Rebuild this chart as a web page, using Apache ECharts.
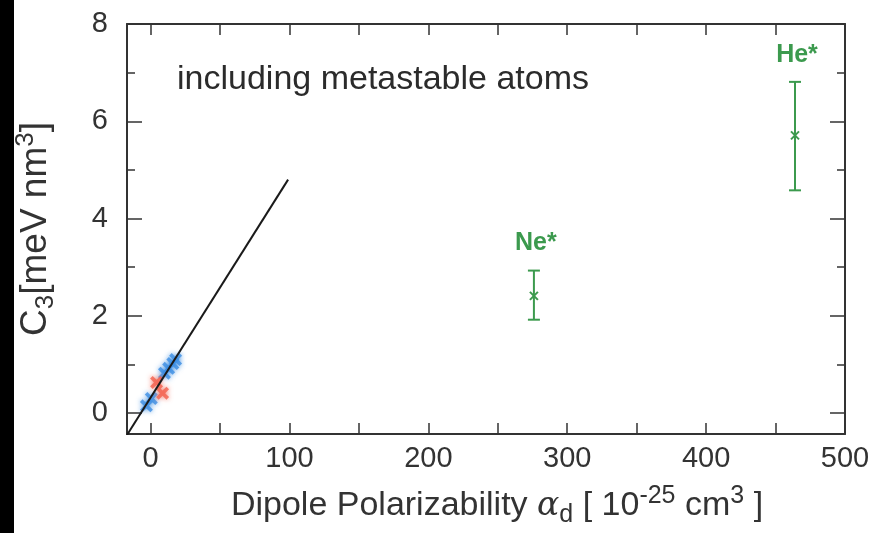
<!DOCTYPE html>
<html>
<head>
<meta charset="utf-8">
<script src="https://cdn.jsdelivr.net/npm/echarts@6/dist/echarts.min.js"></script>
<style>
  html, body { margin: 0; padding: 0; background: #ffffff; }
  #chart { width: 879px; height: 533px; }
</style>
</head>
<body>
<div id="chart"></div>
<script>
// Ground-state species near the origin (blue and red crosses)
const blueAlpha = [-3, 0.5, 10, 13, 16, 18];
const blueC3 = [0.15, 0.3, 0.82, 0.92, 1.02, 1.1];
const redAlpha = [4.3, 8.6];
const redC3 = [0.63, 0.41];

// Metastable atoms: value with lower / upper error limits
const metaNames = ['Ne*', 'He*'];
const metaAlpha = [276, 464];
const metaC3 = [2.41, 5.71];
const metaLow = [1.92, 4.58];
const metaHigh = [2.93, 6.81];

// Linear fit drawn through the ground-state points
const fitAlpha = [-17, 99];
const fitC3 = [-0.45, 4.8];

// Axis ranges and label steps
const xRange = [-17, 500];
const yRange = [-0.43, 8];
const xLabelStep = 100;
const yLabelStep = 2;

const FONT = "'Liberation Sans', Arial, Helvetica, sans-serif";
const INK = '#333333';
const GREEN = '#3c9a4e';
const BLUE = '#3d8fe3';
const RED = '#f2604e';

const crossPath = 'path://M0,2 L2,0 L5,3 L8,0 L10,2 L7,5 L10,8 L8,10 L5,7 L2,10 L0,8 L3,5 Z';

const zip = (xs, ys) => xs.map((x, i) => [x, ys[i]]);

const chart = echarts.init(document.getElementById('chart'), null, { renderer: 'canvas' });

const frameAxisX = {
  type: 'value', min: xRange[0], max: xRange[1], splitNumber: 10,
  axisLine: { show: true, onZero: false, lineStyle: { color: INK, width: 2 } },
  axisTick: { show: true, inside: true, length: 11, lineStyle: { color: INK, width: 1.5 } },
  splitLine: { show: false }
};
const frameAxisY = {
  type: 'value', min: yRange[0], max: yRange[1], splitNumber: 5,
  axisLine: { show: true, onZero: false, lineStyle: { color: INK, width: 2 } },
  axisTick: { show: true, inside: true, length: 15, lineStyle: { color: INK, width: 1.5 } },
  minorTick: { show: true, splitNumber: 2, length: 8, lineStyle: { color: INK, width: 1.5 } },
  splitLine: { show: false }
};

const option = {
  backgroundColor: '#ffffff',
  animation: false,
  textStyle: { fontFamily: FONT },
  grid: { left: 127, right: 34, top: 24, bottom: 96 },
  graphic: [
    { type: 'rect', left: 0, top: 0, shape: { width: 14, height: 533 }, style: { fill: '#000' } },
    {
      type: 'text', left: 177, top: 63,
      style: { text: 'including metastable atoms', font: '34px ' + FONT, fill: '#2b2b2b' }
    }
  ],
  xAxis: [
    Object.assign({}, frameAxisX, {
      position: 'bottom',
      axisLabel: {
        show: true, margin: 10, color: INK, fontSize: 29, fontFamily: FONT,
        formatter: v => (Math.abs(v % xLabelStep) < 1e-9 ? String(v) : '')
      },
      name: 'Dipole Polarizability {a|α}{s|d} [ 10{p|-25} cm{p|3} ]',
      nameLocation: 'middle', nameGap: 50,
      nameTextStyle: {
        fontSize: 34, color: INK, fontFamily: FONT, lineHeight: 44,
        padding: [0, 0, 0, 22],
        rich: {
          a: { fontSize: 33, fontStyle: 'italic', fontFamily: "'DejaVu Serif', serif", color: INK, lineHeight: 44 },
          s: { fontSize: 25, color: INK, verticalAlign: 'bottom', lineHeight: 20 },
          p: { fontSize: 25, color: INK, verticalAlign: 'top', lineHeight: 26 }
        }
      }
    }),
    Object.assign({}, frameAxisX, { position: 'top', axisLabel: { show: false } })
  ],
  yAxis: [
    Object.assign({}, frameAxisY, {
      position: 'left',
      axisLabel: {
        show: true, margin: 19, color: INK, fontSize: 29, fontFamily: FONT,
        formatter: v => (v >= 0 && Math.abs(v % yLabelStep) < 1e-9 ? String(v) : '')
      },
      name: 'C{s|3}[meV nm{p|3}]',
      nameLocation: 'middle', nameGap: 68, nameRotate: 90,
      nameTextStyle: {
        fontSize: 37, color: INK, fontFamily: FONT, lineHeight: 46,
        rich: {
          s: { fontSize: 26, color: INK, verticalAlign: 'bottom', lineHeight: 20 },
          p: { fontSize: 26, color: INK, verticalAlign: 'top', lineHeight: 26 }
        }
      }
    }),
    Object.assign({}, frameAxisY, { position: 'right', axisLabel: { show: false } })
  ],
  series: [
    {
      name: 'fit', type: 'line', xAxisIndex: 0, yAxisIndex: 0,
      data: zip(fitAlpha, fitC3), symbol: 'none', silent: true, clip: true,
      lineStyle: { color: '#1a1a1a', width: 2 }, z: 3
    },
    {
      name: 'ground blue', type: 'scatter', data: zip(blueAlpha, blueC3),
      symbol: crossPath, symbolSize: 13,
      itemStyle: { color: BLUE, shadowColor: BLUE, shadowBlur: 5 }, z: 2
    },
    {
      name: 'ground red', type: 'scatter', data: zip(redAlpha, redC3),
      symbol: crossPath, symbolSize: 13,
      itemStyle: { color: RED, shadowColor: RED, shadowBlur: 5 }, z: 2
    },
    {
      name: 'metastable', type: 'custom',
      data: metaAlpha.map((a, i) => [a, metaC3[i], metaLow[i], metaHigh[i], i]),
      renderItem: (params, api) => {
        const a = api.value(0);
        const pC = api.coord([a, api.value(1)]);
        const pLo = api.coord([a, api.value(2)]);
        const pHi = api.coord([a, api.value(3)]);
        const cap = 6, m = 4;
        const st = { stroke: GREEN, lineWidth: 2 };
        return {
          type: 'group',
          children: [
            { type: 'line', shape: { x1: pLo[0], y1: pLo[1], x2: pHi[0], y2: pHi[1] }, style: st },
            { type: 'line', shape: { x1: pLo[0] - cap, y1: pLo[1], x2: pLo[0] + cap, y2: pLo[1] }, style: st },
            { type: 'line', shape: { x1: pHi[0] - cap, y1: pHi[1], x2: pHi[0] + cap, y2: pHi[1] }, style: st },
            { type: 'line', shape: { x1: pC[0] - m, y1: pC[1] - m, x2: pC[0] + m, y2: pC[1] + m }, style: st },
            { type: 'line', shape: { x1: pC[0] - m, y1: pC[1] + m, x2: pC[0] + m, y2: pC[1] - m }, style: st },
            {
              type: 'text',
              style: {
                x: pHi[0] + 2, y: pHi[1] - 27,
                text: metaNames[api.value(4)],
                align: 'center', verticalAlign: 'middle',
                font: 'bold 25px ' + FONT, fill: GREEN
              }
            }
          ]
        };
      },
      z: 4
    }
  ]
};

chart.setOption(option);
</script>
</body>
</html>
